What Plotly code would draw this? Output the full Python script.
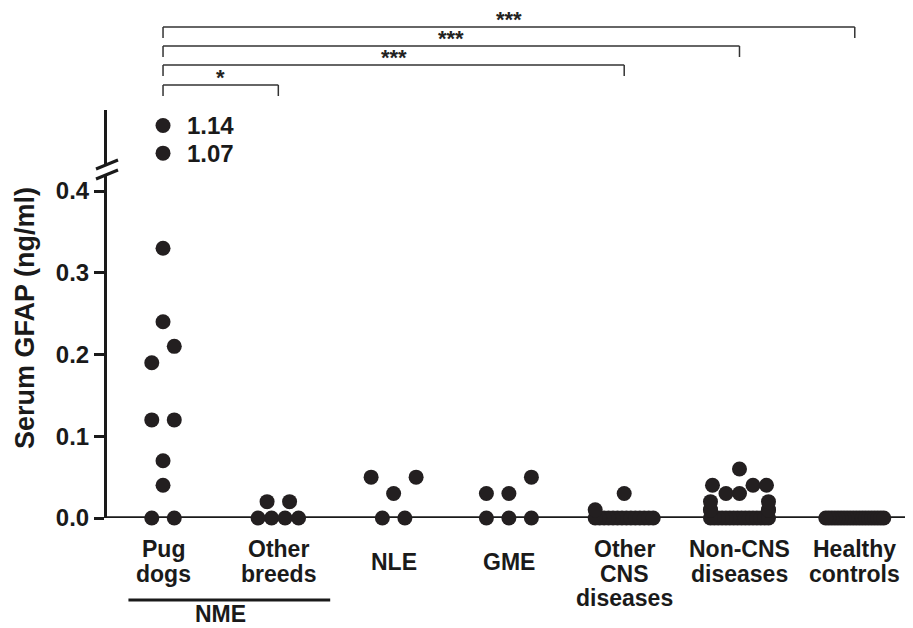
import plotly.graph_objects as go

# ---------------- data ----------------
categories = ["Pug dogs", "Other breeds", "NLE", "GME",
              "Other CNS diseases", "Non-CNS diseases", "Healthy controls"]
label_lines = [["Pug", "dogs"], ["Other", "breeds"], ["NLE"], ["GME"],
               ["Other", "CNS", "diseases"], ["Non-CNS", "diseases"],
               ["Healthy", "controls"]]

pug_dogs = [1.14, 1.07, 0.33, 0.24, 0.21, 0.19, 0.12, 0.12, 0.07, 0.04, 0.0, 0.0]
other_breeds = [0.02, 0.02, 0.0, 0.0, 0.0, 0.0]
nle = [0.05, 0.05, 0.03, 0.0, 0.0]
gme = [0.05, 0.03, 0.03, 0.0, 0.0, 0.0]
other_cns = [0.03, 0.01, 0.0, 0.0, 0.0, 0.0, 0.0, 0.0, 0.0, 0.0, 0.0, 0.0,
             0.0, 0.0, 0.0, 0.0]
non_cns = [0.06, 0.04, 0.04, 0.04, 0.03, 0.03, 0.02, 0.02, 0.01, 0.01, 0.01,
           0.01, 0.0, 0.0, 0.0, 0.0, 0.0, 0.0, 0.0, 0.0, 0.0, 0.0, 0.0, 0.0,
           0.0, 0.0, 0.0, 0.0]
healthy = [0.0, 0.0, 0.0, 0.0, 0.0, 0.0, 0.0, 0.0, 0.0, 0.0, 0.0, 0.0, 0.0,
           0.0, 0.0, 0.0, 0.0, 0.0, 0.0, 0.0]
groups = [pug_dogs, other_breeds, nle, gme, other_cns, non_cns, healthy]

y_ticks = [0.0, 0.1, 0.2, 0.3, 0.4]
y_tick_text = ["0.0", "0.1", "0.2", "0.3", "0.4"]

comparisons = [(0, 6, "***"), (0, 5, "***"), (0, 4, "***"), (0, 1, "*")]
group_label = "NME"
y_title = "Serum GFAP (ng/ml)"

# ---------------- layout geometry (page pixels) ----------------
W, H = 913, 628
BODY = 8                      # default page margin around the plot div
ML, MR, MT, MB = 107, 0, 110, 110
PW, PH = W - ML - MR, H - MT - MB
XMIN, XMAX = -0.486, 6.505
PX_PER_CAT = PW / (XMAX - XMIN)
LOW_RANGE = [0.0, 0.4208]
LOW_DOM = [0.0, (518 - 174) / PH]
UP_RANGE = [1.0426, 1.179]
UP_DOM = [(518 - 164) / PH, 1.0]
BREAK = 0.5

FONT = "Liberation Sans, Arial, sans-serif"
INK = "#1a1a1a"
DOT = "#231f20"


def py(p):  # page pixel row -> paper y
    return ((H - MB) - p) / PH


def px(p):  # page pixel column -> paper x
    return (p - ML) / PW


# ---------------- dot-plot arrangement ----------------
D_WIDE, D_DENSE, MAX_SPAN, ROW_TOL = 22.5, 13.5, 58.0, 0.021


def row_offsets(n):
    if n == 1:
        return [0.0], D_WIDE
    step = D_WIDE if n <= 3 else min(D_DENSE, MAX_SPAN / (n - 1))
    pos = [(i - (n - 1) / 2) * step for i in range(n)]
    order = sorted(range(n), key=lambda i: (abs(i - (n - 1) / 2), i))
    return [pos[i] for i in order], step


def arrange(vals):
    vals = sorted(vals)
    zeros = [v for v in vals if v == 0]
    rest = [v for v in vals if v > 0]
    pts = []
    if zeros:
        offs, step = row_offsets(len(zeros))
        pts += [(o, 0.0) for o in offs]
        if len(zeros) >= 4 and step < D_DENSE:
            half = step * (len(zeros) - 1) / 2
            near = [v for v in rest if v <= ROW_TOL]
            rest = [v for v in rest if v > ROW_TOL]
            for k, v in enumerate(near):
                pts.append((-half if k % 2 == 0 else half, v))
    rows = []
    for v in rest:
        if rows and v - rows[-1][0] <= ROW_TOL:
            rows[-1].append(v)
        else:
            rows.append([v])
    for r in rows:
        offs, _ = row_offsets(len(r))
        pts += list(zip(offs, r))
    return pts


lx, ly, ux, uy = [], [], [], []
for gi, vals in enumerate(groups):
    for off, v in arrange(vals):
        x = gi + off / PX_PER_CAT
        if v > BREAK:
            ux.append(x)
            uy.append(v)
        else:
            lx.append(x)
            ly.append(v)

fig = go.Figure()
marker = dict(size=15, color=DOT, line=dict(width=0))
fig.add_trace(go.Scatter(x=lx, y=ly, mode="markers", marker=marker,
                         xaxis="x", yaxis="y", cliponaxis=False,
                         hoverinfo="skip", showlegend=False))
fig.add_trace(go.Scatter(x=ux, y=uy, mode="markers", marker=marker,
                         xaxis="x2", yaxis="y2", cliponaxis=False,
                         hoverinfo="skip", showlegend=False))

annotations = []
shapes = []
bold = lambda s, c=INK: dict(family=FONT, size=s, color=c, weight="bold")

# values above the break
for x, v in zip(ux, uy):
    annotations.append(dict(x=x, y=v, xref="x2", yref="y2", text=f"{v:.2f}",
                            showarrow=False, xanchor="left", yanchor="middle",
                            xshift=22, font=bold(24)))

# x axis line through zero
shapes.append(dict(type="line", xref="x", yref="y", x0=XMIN, x1=XMAX,
                   y0=0, y1=0, line=dict(color=INK, width=3.5), layer="below"))

# axis break slashes
for top in (160, 170):
    shapes.append(dict(type="line", xref="paper", yref="paper",
                       x0=px(96), x1=px(118), y0=py(top + 9), y1=py(top),
                       line=dict(color=INK, width=3)))

# category labels
for gi, lines in enumerate(label_lines):
    start = 549 if len(lines) >= 2 else 561.5
    for li, t in enumerate(lines):
        annotations.append(dict(x=gi, y=py(start + 24.5 * li), xref="x",
                                yref="paper", text=t, showarrow=False,
                                xanchor="center", yanchor="middle",
                                font=bold(23)))

# NME grouping line
shapes.append(dict(type="line", xref="x", yref="paper", x0=-0.3, x1=1.45,
                   y0=py(600), y1=py(600), line=dict(color=INK, width=3)))
annotations.append(dict(x=0.5, y=py(614), xref="x", yref="paper",
                        text=group_label, showarrow=False, xanchor="center",
                        yanchor="middle", font=bold(23)))

# significance brackets
levels = [27, 46, 65, 85]
for (a, b, stars), lev in zip(comparisons, levels):
    yl = py(lev)
    yd = py(lev + 11)
    for x0, y0, x1, y1 in [(a, yd, a, yl), (a, yl, b, yl), (b, yl, b, yd)]:
        shapes.append(dict(type="line", xref="x", yref="paper", x0=x0, x1=x1,
                           y0=y0, y1=y1, line=dict(color="#333333", width=1.5)))
    annotations.append(dict(x=(a + b) / 2, y=yl, xref="x", yref="paper",
                            text=stars, showarrow=False, xanchor="center",
                            yanchor="bottom", yshift=-7,
                            font=bold(22, "#222222")))

# y axis title
annotations.append(dict(x=px(25), y=py(318), xref="paper", yref="paper",
                        text=y_title, textangle=-90, showarrow=False,
                        xanchor="center", yanchor="middle", font=bold(27)))

fig.update_layout(
    width=W - BODY, height=H - BODY,
    margin=dict(l=ML - BODY, r=MR, t=MT - BODY, b=MB, pad=0),
    paper_bgcolor="white", plot_bgcolor="white",
    showlegend=False,
    xaxis=dict(domain=[0, 1], range=[XMIN, XMAX], anchor="y",
               showline=False, showgrid=False, zeroline=False,
               showticklabels=False, ticks=""),
    xaxis2=dict(domain=[0, 1], range=[XMIN, XMAX], anchor="y2",
                matches="x", visible=False),
    yaxis=dict(domain=LOW_DOM, range=LOW_RANGE, anchor="x",
               showline=True, linecolor=INK, linewidth=3,
               showgrid=False, zeroline=False,
               tickmode="array", tickvals=y_ticks, ticktext=y_tick_text,
               ticks="outside", ticklen=10, tickwidth=3, tickcolor=INK,
               tickfont=bold(24)),
    yaxis2=dict(domain=UP_DOM, range=UP_RANGE, anchor="x2",
                showline=True, linecolor=INK, linewidth=3,
                showgrid=False, zeroline=False, showticklabels=False,
                ticks=""),
    shapes=shapes,
    annotations=annotations,
)

fig.write_html("out.html")
